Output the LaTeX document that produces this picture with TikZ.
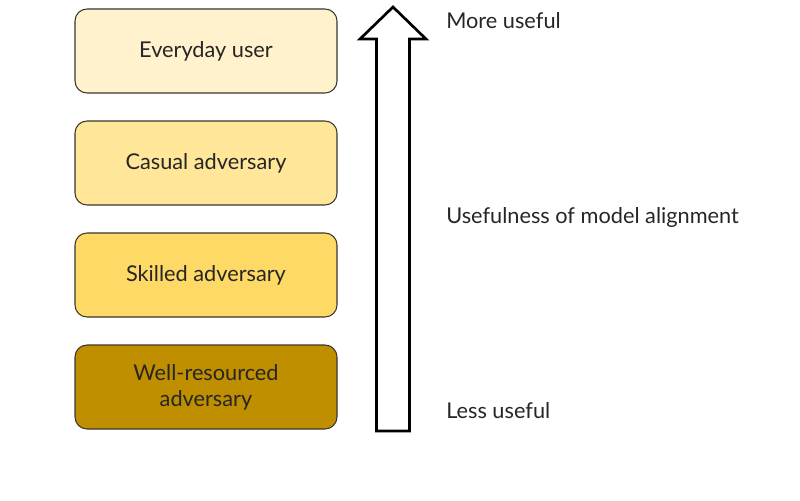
\documentclass[tikz,border=0pt]{standalone}
\usepackage{fontspec}
\setmainfont{Lato}
\usepackage{tikz}

\definecolor{goldA}{HTML}{FFF2CC}
\definecolor{goldB}{HTML}{FFE699}
\definecolor{goldC}{HTML}{FFD966}
\definecolor{goldD}{HTML}{BF8F00}
\definecolor{boxline}{HTML}{3A3530}

\tikzset{
  levelbox/.style={draw=boxline, line width=0.8pt, rounded corners=9pt,
    minimum width=196.5pt, minimum height=63pt, align=center,
    font=\fontsize{16.3}{19.5}\selectfont, text=black!85},
  sidelabel/.style={anchor=west, inner sep=0.75pt,
    font=\fontsize{16.3}{19.5}\selectfont, text=black!85}
}

\begin{document}
\begin{tikzpicture}[x=0.75pt,y=0.75pt,yscale=-1,xscale=1]
\useasboundingbox (0,0) rectangle (800,500);

% Level boxes
\node [levelbox, fill=goldA] (everyday) at (206,51) {Everyday user};
\node [levelbox, fill=goldB] (casual) at (206,163) {Casual adversary};
\node [levelbox, fill=goldC] (skilled) at (206,275) {Skilled adversary};
\node [levelbox, fill=goldD] (wellres) at (206,387) {Well-resourced\\adversary};

% Block arrow
\draw [line width=2pt, line join=miter, fill=white]
  (376.5,431) -- (376.5,39) -- (360,39) -- (393,7) -- (426,39)
  -- (409.5,39) -- (409.5,431) -- cycle;

% Side labels
\node [sidelabel] (more) at (445,21) {More useful};
\node [sidelabel] (mid) at (445,217) {Usefulness of model alignment};
\node [sidelabel] (less) at (445,411) {Less useful};

\end{tikzpicture}
\end{document}
